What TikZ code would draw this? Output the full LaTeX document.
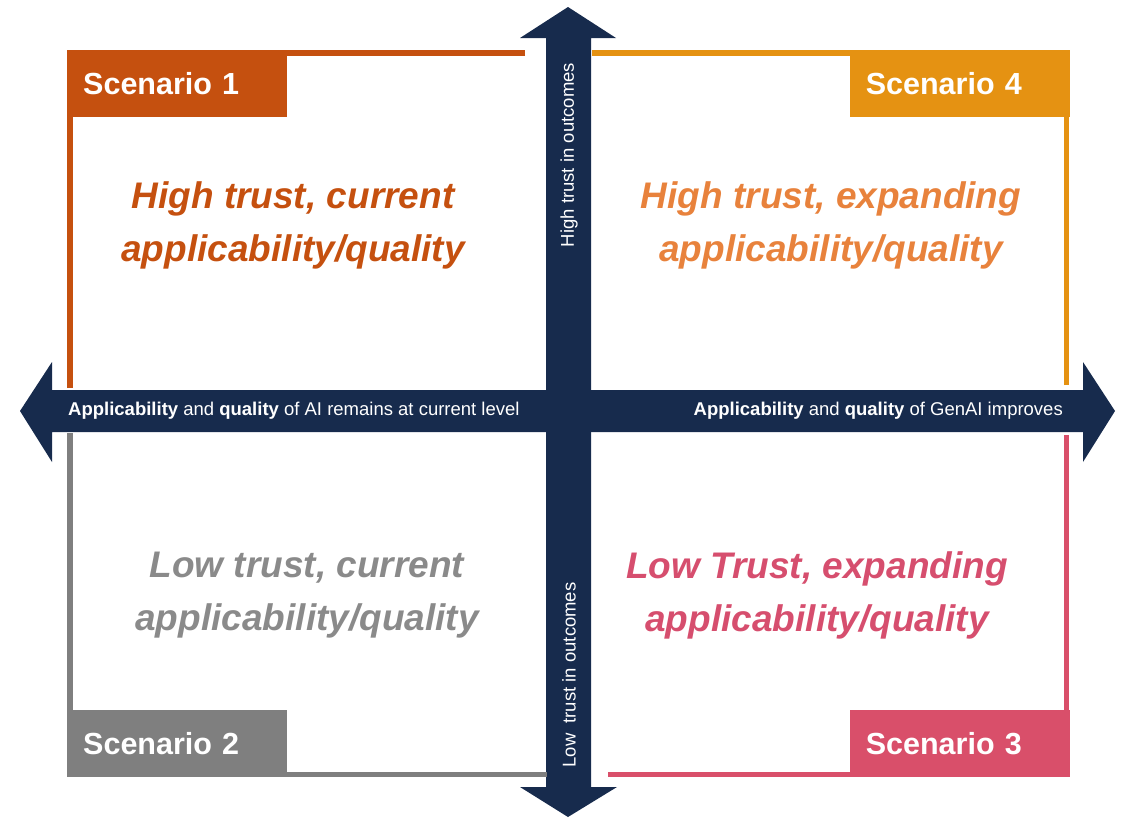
\documentclass[tikz,border=0pt]{standalone}
\usepackage{fontspec}
\setmainfont{Liberation Sans}
\definecolor{navy}{HTML}{172B4D}
\definecolor{cA}{HTML}{C5500F}
\definecolor{cAt}{HTML}{C5500F}
\definecolor{cD}{HTML}{E59212}
\definecolor{cDt}{HTML}{E8823C}
\definecolor{cB}{HTML}{7F7F7F}
\definecolor{cBt}{HTML}{8A8A8A}
\definecolor{cC}{HTML}{D94F6A}
\definecolor{cCt}{HTML}{D64E6E}
\tikzset{
  lab/.style={fill=#1, text=white, minimum height=67pt, text width=188pt, inner xsep=16pt, inner ysep=0pt, align=left, font=\fontsize{30.5}{34}\selectfont\bfseries},
  qline/.style={draw=#1, line width=5.5pt},
  qtext/.style={text=#1, align=center, font=\fontsize{37}{53}\selectfont\bfseries\itshape},
  axtext/.style={text=white, inner sep=0pt, font=\fontsize{18.5}{21}\selectfont},
  arrowfill/.style={fill=navy}
}
\begin{document}
\begin{tikzpicture}[x=1pt,y=-1pt]
\useasboundingbox (0,0) rectangle (1122,819);
% arrows
\fill[arrowfill] (546,787) -- (546,38) -- (520,38) -- (568,7) -- (616,38) -- (591,38) -- (591,787) -- (617,787) -- (568,817) -- (520,787) -- cycle;
\fill[arrowfill] (52,390) -- (1083,390) -- (1083,362) -- (1115,411) -- (1083,462) -- (1083,432) -- (52,432) -- (52,462) -- (20,411) -- (52,362) -- cycle;
% scenario labels
\node[lab=cA, anchor=north west] (s1) at (67,50) {Scenario 1};
\node[lab=cD, anchor=north east] (s4) at (1070,50) {Scenario 4};
\node[lab=cB, anchor=south west] (s2) at (67,777) {Scenario 2};
\node[lab=cC, anchor=south east] (s3) at (1070,777) {Scenario 3};
% frame coordinates
\coordinate (a1) at (525,52.75);
\coordinate (a2) at (70,388);
\coordinate (d1) at (592,52.75);
\coordinate (d2) at (1066.5,385);
\coordinate (b1) at (70,433);
\coordinate (b2) at (547,774.25);
\coordinate (c1) at (608,774.25);
\coordinate (c2) at (1066.5,435);
\draw[qline=cA] (a1) -- (s1.north east |- a1);
\draw[qline=cA] (a2) -- (a2 |- s1.south);
\draw[qline=cD] (d1) -- (s4.north west |- d1);
\draw[qline=cD] (d2) -- (d2 |- s4.south);
\draw[qline=cB] (b1) -- (b1 |- s2.north);
\draw[qline=cB] (b2) -- (s2.south east |- b2);
\draw[qline=cC] (c1) -- (s3.south west |- c1);
\draw[qline=cC] (c2) -- (c2 |- s3.north);
% quadrant texts
\node[qtext=cAt] (t1) at (293,225) {High trust, current\\applicability/quality};
\node[qtext=cDt] (t4) at (831,225) {High trust, expanding\\applicability/quality};
\node[qtext=cBt] (t2) at (307,595) {Low trust, current\\applicability/quality};
\node[qtext=cCt] (t3) at (817,595) {Low Trust, expanding\\applicability/quality};
% axis texts
\node[axtext, anchor=west] (xl) at (68,411) {\textbf{Applicability} and \textbf{quality} of AI remains at current level};
\node[axtext, anchor=east] (xr) at (1063,411) {\textbf{Applicability} and \textbf{quality} of GenAI improves};
\node[axtext, rotate=90] (yh) at (569,155) {High trust in outcomes};
\node[axtext, rotate=90] (yl) at (569,675) {Low\ \ trust in outcomes};
\end{tikzpicture}
\end{document}
